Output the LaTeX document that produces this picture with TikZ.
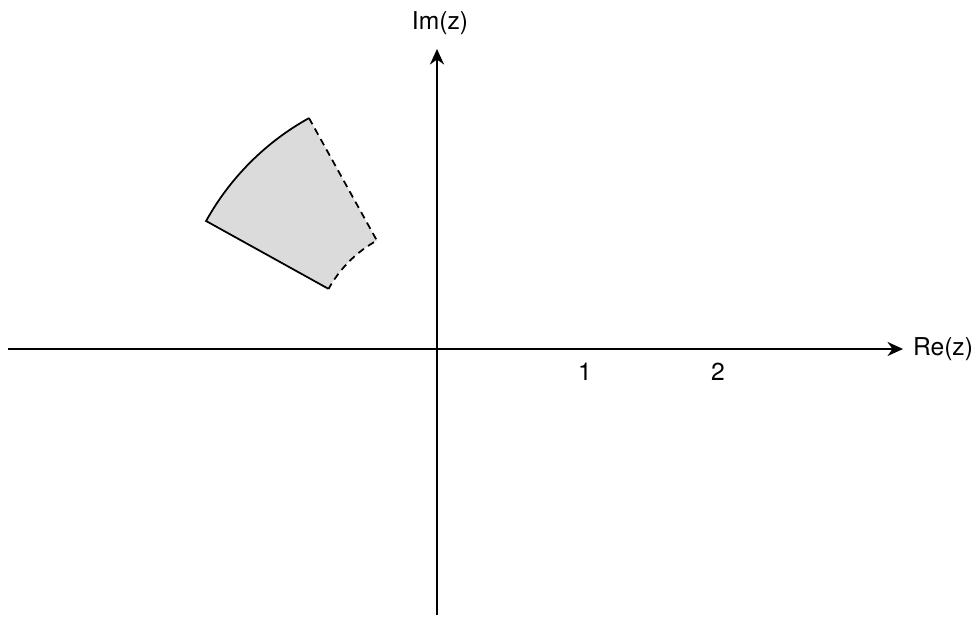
\documentclass[tikz,border=0pt]{standalone}
\usepackage{fontspec}
\setmainfont{TeX Gyre Heros}
\usetikzlibrary{arrows.meta}

\begin{document}
\begin{tikzpicture}[scale=1.0,font=\fontsize{17.5}{21}\selectfont]
				\useasboundingbox (-10.925,-6.7) rectangle (13.35,8.725);
				\coordinate (O) at (0,0);
				\coordinate (L) at (-10.725,0);
				\coordinate (R) at (11.65,0);
				\coordinate (D) at (0,-6.65);
				\coordinate (U) at (0,7.5);
				\coordinate (A) at (151:6.6);
				\coordinate (B) at (119:6.6);
				\coordinate (C) at (119:3.1);
				\coordinate (E) at (151:3.1);
				\fill[gray!28] (E)--(A) arc[start angle=151,end angle=119,radius=6.6]--(C) arc[start angle=119,end angle=151,radius=3.1]--cycle;
				\draw[line width=1.25pt] (E)--(A) arc[start angle=151,end angle=119,radius=6.6];
				\draw[line width=1.25pt,dash pattern=on 5pt off 3.5pt] (B)--(C) arc[start angle=119,end angle=151,radius=3.1];
				\draw[line width=1.4pt,-{Stealth[length=11pt,width=10pt,inset=3.5pt]}] (L)--(R);
				\draw[line width=1.4pt,-{Stealth[length=11pt,width=10pt,inset=3.5pt]}] (D)--(U);
				\node (im) at (0.075,8.15) {Im(z)};
				\node (re) at (12.65,0) {Re(z)};
				\node (one) at (3.7,-0.575) {1};
				\node (two) at (7.025,-0.575) {2};
			\end{tikzpicture}
\end{document}
